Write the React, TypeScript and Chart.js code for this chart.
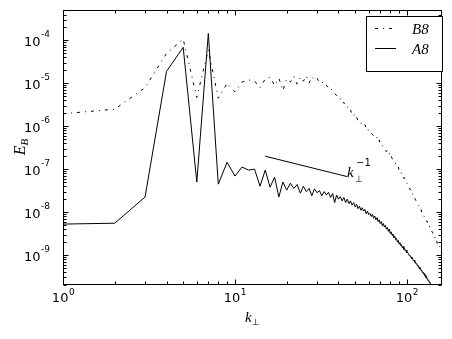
import React, { useEffect, useRef } from "react";
import { Chart, registerables } from "chart.js";

Chart.register(...registerables);

// ---------- data ----------
const kPerp = [
  1, 2, 3, 4, 5, 6, 7, 8, 9, 10, 11, 12, 13, 14, 15, 16, 17, 18, 19, 20,
  21, 22, 23, 24, 25, 26, 27, 28, 29, 30, 31, 32, 33, 34, 35, 36, 37, 38, 39, 40,
  41, 42, 43, 44, 45, 46, 47, 48, 49, 50, 51, 52, 53, 54, 55, 56, 57, 58, 59, 60,
  61, 62, 63, 64, 65, 66, 67, 68, 69, 70, 71, 72, 73, 74, 75, 76, 77, 78, 79, 80,
  81, 82, 83, 84, 85, 86, 87, 88, 89, 90, 91, 92, 93, 94, 95, 96, 97, 98, 99, 100,
  101, 102, 103, 104, 105, 106, 107, 108, 109, 110, 111, 112, 113, 114, 115, 116, 117, 118, 119, 120,
  121, 122, 123, 124, 125, 126, 127, 128, 129, 130, 131, 132, 133, 134, 135, 136, 137, 138, 139, 140,
  141, 142, 143, 144, 145, 146, 147, 148, 149, 150, 151, 152, 153, 154, 155, 156, 157, 158, 159, 160,
];

const energyB8 = [
  1.95e-6, 2.5e-6, 7.9e-6, 5.0e-5, 1.07e-4, 4.7e-6, 6.0e-5, 4.5e-6, 1.0e-5, 6.3e-6,
  1.07e-5, 1.2e-5, 1.12e-5, 7.9e-6, 1.26e-5, 1.38e-5, 8.9e-6, 1.32e-5, 6.8e-6, 1.26e-5,
  1.07e-5, 1.45e-5, 9.5e-6, 1.38e-5, 1.12e-5, 1.48e-5, 1.02e-5, 1.41e-5, 1.2e-5, 1.32e-5,
  1.05e-5, 1.1e-5, 8.9e-6, 9.1e-6, 7.6e-6, 7.9e-6, 6.3e-6, 5.75e-6, 5.25e-6, 4.37e-6,
  4.4e-6, 3.4e-6, 3.6e-6, 2.85e-6, 2.9e-6, 2.3e-6, 2.4e-6, 1.85e-6, 1.95e-6, 1.52e-6,
  1.62e-6, 1.33e-6, 1.36e-6, 1.16e-6, 1.15e-6, 1.03e-6, 1.1e-6, 8.6e-7, 9.0e-7, 7.4e-7,
  7.5e-7, 6.8e-7, 6.5e-7, 6.0e-7, 5.8e-7, 5.2e-7, 5.5e-7, 4.4e-7, 4.8e-7, 3.9e-7,
  4.0e-7, 3.5e-7, 3.35e-7, 3.05e-7, 2.9e-7, 2.55e-7, 2.7e-7, 2.25e-7, 2.35e-7, 1.93e-7,
  2.05e-7, 1.75e-7, 1.72e-7, 1.52e-7, 1.45e-7, 1.33e-7, 1.3e-7, 1.12e-7, 1.15e-7, 9.5e-8,
  9.8e-8, 8.2e-8, 8.1e-8, 6.9e-8, 7.0e-8, 6.1e-8, 6.2e-8, 5.3e-8, 5.3e-8, 4.6e-8,
  4.5e-8, 4.0e-8, 3.9e-8, 3.4e-8, 3.4e-8, 2.9e-8, 3.0e-8, 2.55e-8, 2.5e-8, 2.2e-8,
  2.2e-8, 1.92e-8, 1.87e-8, 1.68e-8, 1.62e-8, 1.46e-8, 1.42e-8, 1.27e-8, 1.27e-8, 1.11e-8,
  1.13e-8, 9.9e-9, 1.0e-8, 8.8e-9, 8.7e-9, 7.8e-9, 7.8e-9, 7.0e-9, 6.9e-9, 6.1e-9,
  6.2e-9, 5.4e-9, 5.5e-9, 4.85e-9, 4.8e-9, 4.3e-9, 4.3e-9, 3.85e-9, 3.8e-9, 3.4e-9,
  3.4e-9, 3.05e-9, 3.0e-9, 2.65e-9, 2.7e-9, 2.35e-9, 2.4e-9, 2.1e-9, 2.15e-9, 1.88e-9,
  1.9e-9, 1.68e-9, 1.7e-9, 1.55e-9, 1.6e-9, 1.45e-9, 1.45e-9, 1.36e-9, 1.35e-9, 1.28e-9,
];

const energyA8 = [
  5.25e-9, 5.5e-9, 2.24e-8, 1.9e-5, 6.9e-5, 5.0e-8, 1.45e-4, 4.47e-8, 1.45e-7, 6.9e-8,
  1.12e-7, 9.5e-8, 1.0e-7, 4.0e-8, 9.5e-8, 3.8e-8, 6.5e-8, 2.24e-8, 5.0e-8, 3.24e-8,
  4.7e-8, 3.55e-8, 4.37e-8, 2.75e-8, 4.0e-8, 3.0e-8, 3.55e-8, 2.4e-8, 3.47e-8, 2.82e-8,
  3.16e-8, 2.4e-8, 3.0e-8, 2.5e-8, 2.9e-8, 2.19e-8, 2.7e-8, 1.66e-8, 2.5e-8, 2.0e-8,
  2.29e-8, 1.82e-8, 2.19e-8, 1.66e-8, 2.0e-8, 1.58e-8, 1.82e-8, 1.45e-8, 1.66e-8, 1.32e-8,
  1.51e-8, 1.2e-8, 1.38e-8, 1.1e-8, 1.26e-8, 1.05e-8, 1.15e-8, 9.1e-9, 1.05e-8, 8.7e-9,
  9.3e-9, 7.9e-9, 8.9e-9, 7.2e-9, 8.1e-9, 6.6e-9, 7.4e-9, 6.0e-9, 6.6e-9, 5.4e-9,
  6.0e-9, 4.8e-9, 5.4e-9, 4.47e-9, 4.9e-9, 4.0e-9, 4.37e-9, 3.55e-9, 4.0e-9, 3.16e-9,
  3.47e-9, 2.88e-9, 3.09e-9, 2.5e-9, 2.75e-9, 2.29e-9, 2.45e-9, 2.0e-9, 2.19e-9, 1.82e-9,
  1.95e-9, 1.66e-9, 1.74e-9, 1.48e-9, 1.58e-9, 1.35e-9, 1.41e-9, 1.23e-9, 1.29e-9, 1.12e-9,
  1.15e-9, 1.08e-9, 9.8e-10, 9.9e-10, 8.9e-10, 9.0e-10, 8.1e-10, 8.3e-10, 7.4e-10, 7.6e-10,
  6.8e-10, 6.9e-10, 6.2e-10, 6.3e-10, 5.6e-10, 5.8e-10, 5.1e-10, 5.2e-10, 4.7e-10, 4.8e-10,
  4.3e-10, 4.4e-10, 3.9e-10, 4.0e-10, 3.6e-10, 3.7e-10, 3.3e-10, 3.35e-10, 3.0e-10, 3.1e-10,
  2.75e-10, 2.8e-10, 2.5e-10, 2.55e-10, 2.3e-10, 2.35e-10, 2.1e-10, 2.1e-10, 1.95e-10, 1.9e-10,
  1.78e-10, 1.7e-10, 1.58e-10, 1.51e-10, 1.45e-10, 1.38e-10, 1.32e-10, 1.26e-10, 1.2e-10, 1.15e-10,
  1.1e-10, 1.05e-10, 1.0e-10, 9.5e-11, 9.1e-11, 8.7e-11, 8.3e-11, 7.9e-11, 7.6e-11, 7.2e-11,
];

const refSlopeK = [15, 45];
const refSlopeE = [2.0e-7, 6.7e-8];

const seriesLabels = ["B8", "A8"];
const xTickValues = [1, 10, 100];
const xTickExponents = ["0", "1", "2"];
const yTickValues = [1e-9, 1e-8, 1e-7, 1e-6, 1e-5, 1e-4];
const yTickExponents = ["-9", "-8", "-7", "-6", "-5", "-4"];

const X_MIN = 1;
const X_MAX = 160;
const Y_MIN = 2.0e-10;
const Y_MAX = 5.1e-4;

const B8_DASH = [3, 5, 1, 5];
const SANS = '"DejaVu Sans", sans-serif';
const SERIF = '"Liberation Serif", "DejaVu Serif", serif';

const decorPlugin = {
  id: "decor",
  afterDatasetsDraw(chart: any) {
    const { ctx, chartArea: a, scales } = chart;
    const xs = scales.x;
    const ys = scales.y;
    ctx.save();
    ctx.strokeStyle = "#000";
    ctx.fillStyle = "#000";
    ctx.lineWidth = 1;
    ctx.setLineDash([]);

    const L = Math.round(a.left) + 0.5;
    const R = Math.round(a.right) - 0.5;
    const T = Math.round(a.top) + 0.5;
    const B = Math.round(a.bottom) - 0.5;

    // frame
    ctx.strokeRect(L, T, R - L, B - T);

    // x ticks (inward, bottom and top)
    ctx.beginPath();
    for (let d = 1; d <= 1000; d *= 10) {
      for (let m = 1; m <= 9; m++) {
        const v = d * m;
        if (v < X_MIN || v > X_MAX) continue;
        const px = Math.round(xs.getPixelForValue(v)) + 0.5;
        const len = m === 1 ? 5 : 3;
        ctx.moveTo(px, B);
        ctx.lineTo(px, B - len);
        ctx.moveTo(px, T);
        ctx.lineTo(px, T + len);
      }
    }
    // y ticks (inward, left and right)
    for (let d = 1e-10; d <= 1e-3; d *= 10) {
      for (let m = 1; m <= 9; m++) {
        const v = d * m;
        if (v < Y_MIN || v > Y_MAX) continue;
        const py = Math.round(ys.getPixelForValue(v)) + 0.5;
        const len = m === 1 ? 5 : 3;
        ctx.moveTo(L, py);
        ctx.lineTo(L + len, py);
        ctx.moveTo(R, py);
        ctx.lineTo(R - len, py);
      }
    }
    ctx.stroke();

    // tick labels
    ctx.textAlign = "left";
    ctx.textBaseline = "alphabetic";
    const baseFont = `13px ${SANS}`;
    const expFont = `9px ${SANS}`;
    xTickValues.forEach((v, i) => {
      const px = xs.getPixelForValue(v);
      ctx.font = baseFont;
      const w10 = ctx.measureText("10").width;
      ctx.font = expFont;
      const wE = ctx.measureText(xTickExponents[i]).width;
      const start = px - (w10 + wE) / 2;
      ctx.font = baseFont;
      ctx.fillText("10", start, 302);
      ctx.font = expFont;
      ctx.fillText(xTickExponents[i], start + w10 + 0.5, 295);
    });
    yTickValues.forEach((v, i) => {
      const py = ys.getPixelForValue(v);
      ctx.font = baseFont;
      const w10 = ctx.measureText("10").width;
      ctx.font = expFont;
      const wE = ctx.measureText(yTickExponents[i]).width;
      const right = 50;
      ctx.font = baseFont;
      ctx.fillText("10", right - wE - w10 - 0.5, py + 6);
      ctx.font = expFont;
      ctx.fillText(yTickExponents[i], right - wE, py - 3);
    });

    // x axis title  k_perp
    ctx.font = `italic 15px ${SERIF}`;
    ctx.fillText("k", 245, 322);
    const wk = ctx.measureText("k").width;
    ctx.font = `9px ${SANS}`;
    ctx.fillText("⊥", 245 + wk, 325);

    // y axis title E_B (rotated)
    ctx.save();
    ctx.translate(25, 147);
    ctx.rotate(-Math.PI / 2);
    ctx.font = `italic 16px ${SERIF}`;
    const wEl = ctx.measureText("E").width;
    ctx.font = `italic 11px ${SERIF}`;
    const wBl = ctx.measureText("B").width;
    const s0 = -(wEl + wBl) / 2;
    ctx.font = `italic 16px ${SERIF}`;
    ctx.fillText("E", s0, 0);
    ctx.font = `italic 11px ${SERIF}`;
    ctx.fillText("B", s0 + wEl, 3);
    ctx.restore();

    // reference slope label k_perp^-1
    ctx.font = `italic 15px ${SERIF}`;
    ctx.fillText("k", 347, 177);
    ctx.font = `10px ${SANS}`;
    ctx.fillText("−1", 356, 166);
    ctx.font = `9px ${SANS}`;
    ctx.fillText("⊥", 355, 182);

    // legend
    ctx.fillStyle = "#fff";
    ctx.fillRect(366.5, 16.5, 76, 55);
    ctx.fillStyle = "#000";
    ctx.strokeRect(366.5, 16.5, 76, 55);
    const rows = [28.5, 48.5];
    rows.forEach((y, i) => {
      ctx.beginPath();
      ctx.setLineDash(i === 0 ? B8_DASH : []);
      ctx.moveTo(375, y);
      ctx.lineTo(396, y);
      ctx.stroke();
      ctx.setLineDash([]);
      ctx.font = `italic 15px ${SERIF}`;
      ctx.fillText(seriesLabels[i], 412, y + 5);
    });

    ctx.restore();
  },
};

export default function App() {
  const canvasRef = useRef<HTMLCanvasElement | null>(null);

  useEffect(() => {
    const canvas = canvasRef.current;
    if (!canvas) return;
    const chart = new Chart(canvas, {
      type: "line",
      data: {
        datasets: [
          {
            label: seriesLabels[0],
            data: kPerp.map((k, i) => ({ x: k, y: energyB8[i] })),
            borderColor: "#000",
            borderWidth: 1,
            borderDash: B8_DASH,
            borderJoinStyle: "round",
            pointRadius: 0,
            fill: false,
            tension: 0,
          },
          {
            label: seriesLabels[1],
            data: kPerp.map((k, i) => ({ x: k, y: energyA8[i] })),
            borderColor: "#000",
            borderWidth: 1,
            borderJoinStyle: "round",
            pointRadius: 0,
            fill: false,
            tension: 0,
          },
          {
            label: "k⊥^-1",
            data: refSlopeK.map((k, i) => ({ x: k, y: refSlopeE[i] })),
            borderColor: "#000",
            borderWidth: 1,
            pointRadius: 0,
            fill: false,
            tension: 0,
          },
        ],
      },
      options: {
        animation: false,
        responsive: false,
        devicePixelRatio: 1,
        layout: { padding: { top: 10, right: 10, left: 0, bottom: 0 } },
        plugins: {
          legend: { display: false },
          tooltip: { enabled: false },
        },
        scales: {
          x: {
            type: "logarithmic",
            min: X_MIN,
            max: X_MAX,
            grid: { display: false },
            border: { display: false },
            ticks: { display: false },
            afterFit: (s: any) => {
              s.height = 54;
            },
          },
          y: {
            type: "logarithmic",
            min: Y_MIN,
            max: Y_MAX,
            grid: { display: false },
            border: { display: false },
            ticks: { display: false },
            afterFit: (s: any) => {
              s.width = 63;
            },
          },
        },
      } as any,
      plugins: [decorPlugin],
    });
    return () => chart.destroy();
  }, []);

  return (
    <div style={{ position: "fixed", left: 0, top: 0, width: 452, height: 339, background: "#fff" }}>
      <canvas ref={canvasRef} width={452} height={339} style={{ display: "block" }} />
    </div>
  );
}
